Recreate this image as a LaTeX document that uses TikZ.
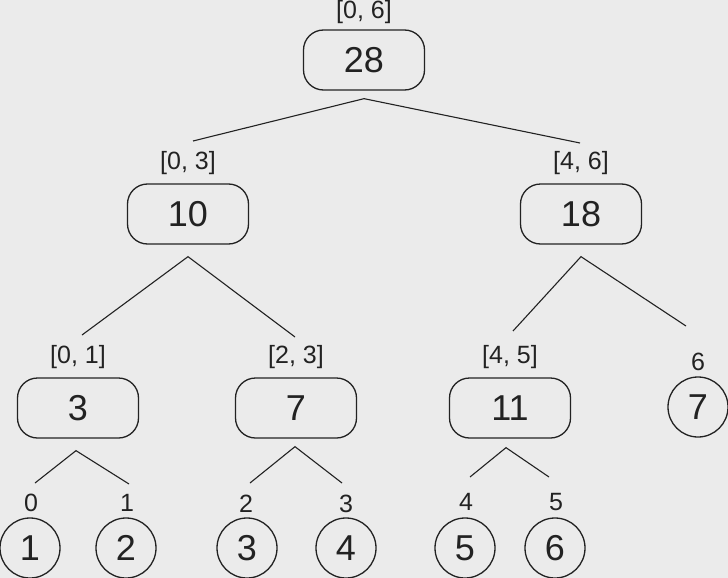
\documentclass[tikz,border=0pt]{standalone}
\usepackage{fontspec}
\setmainfont{Liberation Sans}
\definecolor{paper}{HTML}{EBEBEB}
\definecolor{ink}{HTML}{222222}
\tikzset{
  sumbox/.style={draw=ink, line width=1.3pt, rounded corners=20pt, minimum width=121pt,
    minimum height=60pt, inner sep=0pt, text=ink, font=\fontsize{36}{36}\selectfont},
  leaf/.style={draw=ink, line width=1.3pt, circle, minimum size=60pt, inner sep=0pt,
    text=ink, font=\fontsize{36}{36}\selectfont},
  spanlbl/.style={inner sep=0pt, text=ink, font=\fontsize{25}{25}\selectfont},
  link/.style={draw=ink, line width=1.1pt}
}
\begin{document}
\begin{tikzpicture}[x=1pt,y=-1pt]
\useasboundingbox (0,0) rectangle (728,578);
\fill[paper] (0,0) rectangle (728,578);
% sums of the ranges
\node[sumbox] (s06) at (364,60) {28};
\node[spanlbl] (r06) at (364,12) {[0, 6]};
\node[sumbox] (s03) at (188,214) {10};
\node[spanlbl] (r03) at (188,163) {[0, 3]};
\node[sumbox] (s46) at (581,214) {18};
\node[spanlbl] (r46) at (581,163) {[4, 6]};
\node[sumbox] (s01) at (78,408) {3};
\node[spanlbl] (r01) at (78,357) {[0, 1]};
\node[sumbox] (s23) at (296,408) {7};
\node[spanlbl] (r23) at (296,357) {[2, 3]};
\node[sumbox] (s45) at (510,408) {11};
\node[spanlbl] (r45) at (510,357) {[4, 5]};
\node[leaf] (e6) at (698,407) {7};
\node[spanlbl] (i6) at (698,362) {6};
% leaves
\node[leaf] (e0) at (30,548) {1};
\node[spanlbl] (i0) at (31,503) {0};
\node[leaf] (e1) at (126,548) {2};
\node[spanlbl] (i1) at (127,503) {1};
\node[leaf] (e2) at (247,548) {3};
\node[spanlbl] (i2) at (246,504) {2};
\node[leaf] (e3) at (346,548) {4};
\node[spanlbl] (i3) at (346,504) {3};
\node[leaf] (e4) at (465,548) {5};
\node[spanlbl] (i4) at (466,502) {4};
\node[leaf] (e5) at (555,548) {6};
\node[spanlbl] (i5) at (556,502) {5};
% branch ends
\coordinate (a06) at ([yshift=-8pt]s06.south);
\coordinate (b06l) at (193,141);
\coordinate (b06r) at (580,143);
\coordinate (a03) at ([yshift=-12pt]s03.south);
\coordinate (b03l) at (82,335);
\coordinate (b03r) at (295,337);
\coordinate (a46) at ([yshift=-12pt]s46.south);
\coordinate (b46l) at (513,331);
\coordinate (b46r) at (686,326);
\coordinate (a01) at ([xshift=-2pt,yshift=-12pt]s01.south);
\coordinate (b01l) at (35,483);
\coordinate (b01r) at (129,484);
\coordinate (a23) at ([xshift=-1pt,yshift=-8pt]s23.south);
\coordinate (b23l) at (250,483);
\coordinate (b23r) at (342,483);
\coordinate (a45) at ([xshift=-4pt,yshift=-9pt]s45.south);
\coordinate (b45l) at (470,477);
\coordinate (b45r) at (549,477);
\draw[link] (b06l) -- (a06) -- (b06r);
\draw[link] (b03l) -- (a03) -- (b03r);
\draw[link] (b46l) -- (a46) -- (b46r);
\draw[link] (b01l) -- (a01) -- (b01r);
\draw[link] (b23l) -- (a23) -- (b23r);
\draw[link] (b45l) -- (a45) -- (b45r);
\end{tikzpicture}
\end{document}
